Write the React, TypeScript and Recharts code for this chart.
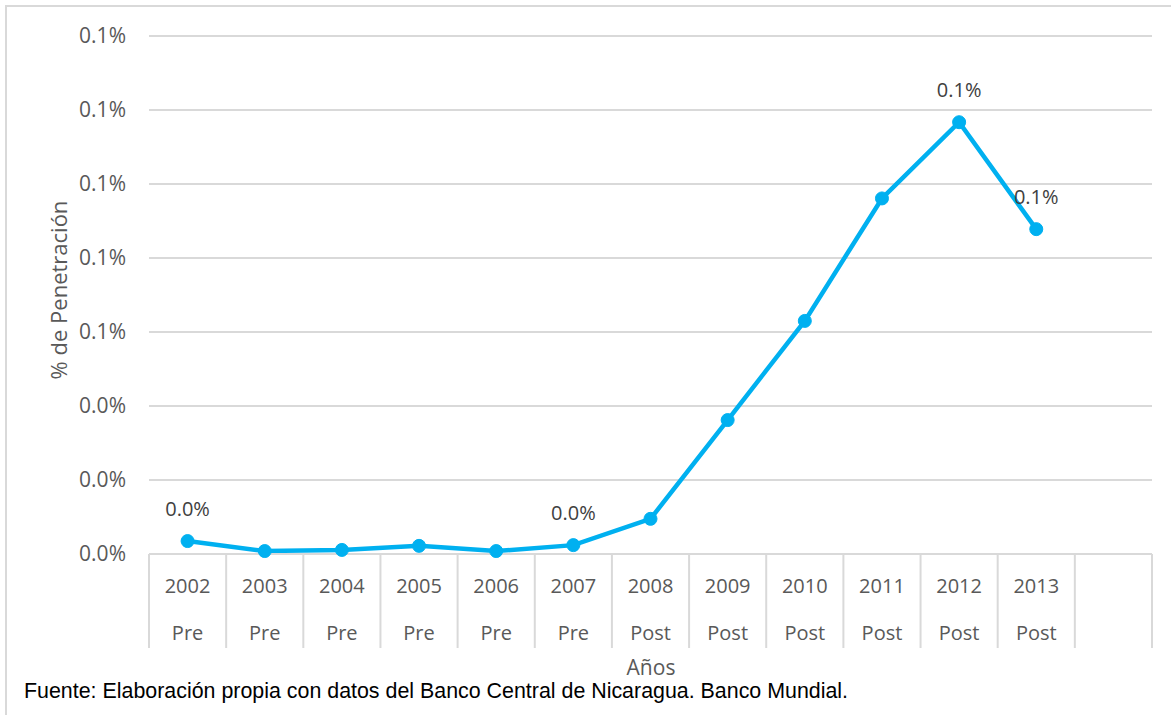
import React from "react";
import { LineChart, Line, XAxis, YAxis, CartesianGrid, LabelList } from "recharts";

// Categories (two-level axis: year / period) and penetration values in percent
const years = ["2002", "2003", "2004", "2005", "2006", "2007", "2008", "2009", "2010", "2011", "2012", "2013", ""];
const phases = ["Pre", "Pre", "Pre", "Pre", "Pre", "Pre", "Post", "Post", "Post", "Post", "Post", "Post", ""];
const penetration: (number | null)[] = [
  0.0035, 0.0008, 0.0011, 0.0022, 0.0008, 0.0024, 0.0095, 0.0362, 0.063, 0.0961, 0.1167, 0.0878, null,
];
// Years whose point carries a value label
const labelledYears = ["2002", "2007", "2012", "2013"];
const yTicks = [0, 0.02, 0.04, 0.06, 0.08, 0.1, 0.12, 0.14];

const data = years.map((year, i) => ({ year, phase: phases[i], value: penetration[i] }));

const W = 1171;
const H = 715;
const PLOT_LEFT = 149;
const PLOT_RIGHT = 1152;
const PLOT_TOP = 36;
const AXIS_Y = 554;
const BAND = (PLOT_RIGHT - PLOT_LEFT) / years.length;

const GRID = "#d9d9d9";
const TEXT = "#595959";
const FONT = "'Open Sans', sans-serif";
const fmt = (v: number) => `${v.toFixed(1)}%`;

const CategoryTick = (props: any) => {
  const { x, index } = props;
  const half = BAND / 2;
  const last = index === years.length - 1;
  return (
    <g>
      <line x1={x - half} x2={x - half} y1={AXIS_Y} y2={AXIS_Y + 94} stroke={GRID} strokeWidth={2} />
      {last && <line x1={x + half} x2={x + half} y1={AXIS_Y} y2={AXIS_Y + 94} stroke={GRID} strokeWidth={2} />}
      <text x={x} y={AXIS_Y + 39} textAnchor="middle" fill={TEXT} fontFamily={FONT} fontSize={20}>
        {years[index]}
      </text>
      <text x={x} y={AXIS_Y + 86} textAnchor="middle" fill={TEXT} fontFamily={FONT} fontSize={20}>
        {phases[index]}
      </text>
    </g>
  );
};

const PointLabel = (props: any) => {
  const { x, y, value, index } = props;
  if (value == null || !labelledYears.includes(years[index])) return null;
  return (
    <text x={x} y={y - 25} textAnchor="middle" fill="#404040" fontFamily={FONT} fontSize={20}>
      {fmt(value)}
    </text>
  );
};

export default function App() {
  return (
    <div style={{ position: "absolute", left: 0, top: 0, width: W, height: H, background: "#fff", overflow: "hidden" }}>
      <div
        style={{
          position: "absolute",
          left: 5,
          top: 5,
          right: 0,
          bottom: 0,
          borderTop: `2px solid ${GRID}`,
          borderLeft: `2px solid ${GRID}`,
        }}
      />
      <LineChart
        width={W}
        height={H}
        data={data}
        margin={{ top: PLOT_TOP, right: W - PLOT_RIGHT, bottom: 0, left: 0 }}
        style={{ position: "absolute", left: 0, top: 0 }}
      >
        <CartesianGrid vertical={false} stroke={GRID} strokeWidth={2} />
        <XAxis
          dataKey="year"
          scale="band"
          interval={0}
          height={H - AXIS_Y}
          axisLine={{ stroke: GRID, strokeWidth: 2 }}
          tickLine={false}
          tick={<CategoryTick />}
        />
        <YAxis
          width={PLOT_LEFT}
          domain={[0, 0.14]}
          ticks={yTicks}
          axisLine={false}
          tickLine={false}
          tickMargin={17}
          tickFormatter={fmt}
          tick={{ fill: TEXT, fontFamily: FONT, fontSize: 21 }}
        />
        <Line
          type="linear"
          dataKey="value"
          stroke="#00b0f0"
          strokeWidth={4.5}
          dot={{ r: 6.5, fill: "#00b0f0", stroke: "#00b0f0", strokeWidth: 1 }}
          isAnimationActive={false}
        >
          <LabelList dataKey="value" content={<PointLabel />} />
        </Line>
      </LineChart>
      <div
        style={{
          position: "absolute",
          left: 58,
          top: 290,
          transform: "translate(-50%, -50%) rotate(-90deg)",
          whiteSpace: "nowrap",
          lineHeight: 1,
          fontFamily: FONT,
          fontSize: 22,
          color: TEXT,
        }}
      >
        % de Penetración
      </div>
      <div
        style={{
          position: "absolute",
          left: 651,
          top: 667,
          transform: "translate(-50%, -50%)",
          whiteSpace: "nowrap",
          lineHeight: 1,
          fontFamily: FONT,
          fontSize: 21,
          color: TEXT,
        }}
      >
        Años
      </div>
      <div
        style={{
          position: "absolute",
          left: 24,
          top: 692,
          transform: "translateY(-50%)",
          whiteSpace: "nowrap",
          lineHeight: 1,
          fontFamily: "'Liberation Sans', Arial, sans-serif",
          fontSize: 21.4,
          color: "#000",
        }}
      >
        Fuente: Elaboración propia con datos del Banco Central de Nicaragua. Banco Mundial.
      </div>
    </div>
  );
}
